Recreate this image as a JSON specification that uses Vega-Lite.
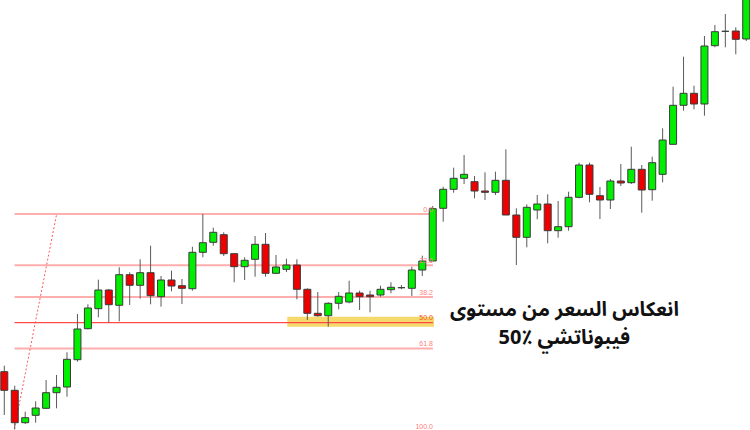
{
  "$schema": "https://vega.github.io/schema/vega-lite/v6.json",
  "width": 750,
  "height": 430,
  "padding": 0,
  "autosize": {"type": "fit", "contains": "padding"},
  "background": "#ffffff",
  "config": {"view": {"stroke": null}},
  "datasets": {
    "candles": [
      {"i": 0, "open": 58.3, "high": 64.3, "low": 15, "close": 39.7},
      {"i": 1, "open": 39.7, "high": 44.3, "low": 0.7, "close": 7.3},
      {"i": 2, "open": 7.3, "high": 18.3, "low": 6, "close": 12.3},
      {"i": 3, "open": 14.7, "high": 28.7, "low": 7.3, "close": 22},
      {"i": 4, "open": 21.7, "high": 50, "low": 21, "close": 37.3},
      {"i": 5, "open": 37.3, "high": 55, "low": 21.7, "close": 42.7},
      {"i": 6, "open": 43, "high": 77.7, "low": 33.3, "close": 70.7},
      {"i": 7, "open": 70.3, "high": 116, "low": 68.3, "close": 101},
      {"i": 8, "open": 101.3, "high": 125.7, "low": 100.7, "close": 122},
      {"i": 9, "open": 121.3, "high": 150.3, "low": 112.7, "close": 140},
      {"i": 10, "open": 140, "high": 141, "low": 107.7, "close": 125.3},
      {"i": 11, "open": 124.7, "high": 162.7, "low": 108.7, "close": 155.3},
      {"i": 12, "open": 155.3, "high": 157.7, "low": 125, "close": 144.7},
      {"i": 13, "open": 144.7, "high": 170.7, "low": 131.3, "close": 157.3},
      {"i": 14, "open": 157.3, "high": 184.3, "low": 125.7, "close": 134.3},
      {"i": 15, "open": 133.3, "high": 154, "low": 123.3, "close": 150},
      {"i": 16, "open": 150, "high": 159.3, "low": 138.7, "close": 144},
      {"i": 17, "open": 144.3, "high": 151, "low": 126, "close": 141.7},
      {"i": 18, "open": 141.3, "high": 183.3, "low": 139.3, "close": 177.7},
      {"i": 19, "open": 177.7, "high": 216, "low": 172.7, "close": 187.3},
      {"i": 20, "open": 187.7, "high": 202.3, "low": 184.3, "close": 197.7},
      {"i": 21, "open": 195.3, "high": 197.7, "low": 174, "close": 176.3},
      {"i": 22, "open": 176.3, "high": 176.3, "low": 147.7, "close": 163.3},
      {"i": 23, "open": 163.3, "high": 172.7, "low": 150, "close": 169.7},
      {"i": 24, "open": 170.7, "high": 194, "low": 153.3, "close": 185.7},
      {"i": 25, "open": 185.7, "high": 197, "low": 153.3, "close": 156.7},
      {"i": 26, "open": 156.7, "high": 175, "low": 156, "close": 163},
      {"i": 27, "open": 160.7, "high": 171.3, "low": 158, "close": 165},
      {"i": 28, "open": 165, "high": 170.7, "low": 130.7, "close": 140.7},
      {"i": 29, "open": 140.7, "high": 141.7, "low": 110, "close": 116.7},
      {"i": 30, "open": 116.7, "high": 138, "low": 113.3, "close": 114.3},
      {"i": 31, "open": 114.3, "high": 127.7, "low": 103.3, "close": 126.7},
      {"i": 32, "open": 126.7, "high": 138, "low": 120.7, "close": 133.7},
      {"i": 33, "open": 128, "high": 149.3, "low": 126.7, "close": 137},
      {"i": 34, "open": 137, "high": 139.3, "low": 120, "close": 133.3},
      {"i": 35, "open": 135, "high": 139.3, "low": 117.7, "close": 133.3},
      {"i": 36, "open": 135, "high": 144.3, "low": 133.3, "close": 140.7},
      {"i": 37, "open": 140.3, "high": 147.7, "low": 136.7, "close": 142.7},
      {"i": 38, "open": 142.3, "high": 145, "low": 140.7, "close": 142.3},
      {"i": 39, "open": 141.7, "high": 163.3, "low": 134, "close": 160},
      {"i": 40, "open": 160, "high": 174.3, "low": 154, "close": 169},
      {"i": 41, "open": 169, "high": 224, "low": 169, "close": 221.3},
      {"i": 42, "open": 221.7, "high": 243.3, "low": 208.3, "close": 240.7},
      {"i": 43, "open": 240.7, "high": 262.3, "low": 237.3, "close": 251.7},
      {"i": 44, "open": 251.7, "high": 275, "low": 246, "close": 255.7},
      {"i": 45, "open": 248.3, "high": 254, "low": 231.7, "close": 239},
      {"i": 46, "open": 239, "high": 257.7, "low": 230, "close": 237.7},
      {"i": 47, "open": 237.7, "high": 258.3, "low": 235, "close": 249.7},
      {"i": 48, "open": 249.7, "high": 280.7, "low": 215, "close": 215},
      {"i": 49, "open": 215, "high": 221.7, "low": 165, "close": 192.7},
      {"i": 50, "open": 192.7, "high": 225.7, "low": 182.7, "close": 222.7},
      {"i": 51, "open": 220, "high": 235, "low": 210.7, "close": 226},
      {"i": 52, "open": 226, "high": 235.7, "low": 186.7, "close": 199.3},
      {"i": 53, "open": 199.3, "high": 229, "low": 192.3, "close": 203.3},
      {"i": 54, "open": 203.3, "high": 238.3, "low": 199.3, "close": 232.7},
      {"i": 55, "open": 232.7, "high": 267.3, "low": 231.7, "close": 265},
      {"i": 56, "open": 265, "high": 267.3, "low": 227.7, "close": 235.7},
      {"i": 57, "open": 234.3, "high": 243, "low": 211, "close": 230},
      {"i": 58, "open": 230, "high": 251, "low": 221, "close": 249},
      {"i": 59, "open": 249, "high": 266, "low": 244, "close": 247},
      {"i": 60, "open": 247.3, "high": 283.3, "low": 246, "close": 260.7},
      {"i": 61, "open": 260.7, "high": 265, "low": 217.3, "close": 240},
      {"i": 62, "open": 240.3, "high": 273.3, "low": 229.3, "close": 267.3},
      {"i": 63, "open": 255.7, "high": 301.7, "low": 247.7, "close": 290},
      {"i": 64, "open": 285.7, "high": 343.3, "low": 285.7, "close": 324.7},
      {"i": 65, "open": 324.7, "high": 373.3, "low": 319.3, "close": 336.7},
      {"i": 66, "open": 336.7, "high": 344.3, "low": 320.7, "close": 326},
      {"i": 67, "open": 326, "high": 394, "low": 314.3, "close": 384},
      {"i": 68, "open": 384.3, "high": 405, "low": 382.7, "close": 398.3},
      {"i": 69, "open": 398.7, "high": 416, "low": 382.7, "close": 398.7},
      {"i": 70, "open": 399, "high": 402.7, "low": 375.7, "close": 390.7},
      {"i": 71, "open": 391, "high": 460, "low": 389, "close": 445}
    ],
    "levels": [
      {"level": 0, "label": "0.0", "price": 216, "from": 0.98, "to": 41.02},
      {"level": 23.6, "label": "23.6", "price": 164.7, "from": 0.98, "to": 41.02},
      {"level": 38.2, "label": "38.2", "price": 133, "from": 0.98, "to": 41.02},
      {"level": 50, "label": "50.0", "price": 107.3, "from": 0.98, "to": 41.02},
      {"level": 61.8, "label": "61.8", "price": 81.6, "from": 0.98, "to": 41.02},
      {"level": 100, "label": "100.0", "price": -1.4, "from": 0.98, "to": 41.02}
    ],
    "zone": [{"start": 27.08, "end": 41.12, "top": 113.3, "bottom": 103.3}],
    "trend": [
      {"i": 0.96, "price": 0.7},
      {"i": 5.01, "price": 216}
    ],
    "notes": [
      {"i": 53.6, "price": 114, "text": "انعكاس السعر من مستوى"},
      {"i": 53.6, "price": 86, "text": "‫فيبوناتشي ‎50٪‬"}
    ]
  },
  "encoding": {
    "x": {"type": "quantitative", "scale": {"domain": [-0.411, 71.36], "nice": false, "zero": false, "padding": 0}, "axis": null},
    "y": {"type": "quantitative", "scale": {"domain": [0, 430], "nice": false, "zero": false, "padding": 0}, "axis": null}
  },
  "layer": [
    {
      "data": {"name": "zone"},
      "mark": {"type": "rect", "color": "#f6d96b", "clip": true},
      "encoding": {
        "x": {"field": "start", "type": "quantitative"},
        "x2": {"field": "end"},
        "y": {"field": "top", "type": "quantitative"},
        "y2": {"field": "bottom"}
      }
    },
    {
      "data": {"name": "levels"},
      "mark": {"type": "rule", "clip": true},
      "encoding": {
        "x": {"field": "from", "type": "quantitative"},
        "x2": {"field": "to"},
        "y": {"field": "price", "type": "quantitative"},
        "color": {"condition": {"test": "datum.level === 50", "value": "#ff4a4a"}, "value": "#ffaeae"},
        "strokeWidth": {"condition": {"test": "datum.level === 50", "value": 1.2}, "value": 2}
      }
    },
    {
      "data": {"name": "trend"},
      "mark": {"type": "line", "color": "#ff5a5a", "strokeWidth": 1, "strokeDash": [2, 2], "clip": true},
      "encoding": {
        "x": {"field": "i", "type": "quantitative"},
        "y": {"field": "price", "type": "quantitative"}
      }
    },
    {
      "data": {"name": "candles"},
      "mark": {"type": "rule", "color": "#5a5a5a", "strokeWidth": 1, "clip": true},
      "encoding": {
        "x": {"field": "i", "type": "quantitative"},
        "y": {"field": "low", "type": "quantitative"},
        "y2": {"field": "high"}
      }
    },
    {
      "data": {"name": "candles"},
      "mark": {"type": "bar", "width": 7, "stroke": "#3a3a3a", "strokeWidth": 1, "clip": true, "orient": "vertical"},
      "encoding": {
        "x": {"field": "i", "type": "quantitative"},
        "y": {"field": "open", "type": "quantitative"},
        "y2": {"field": "close"},
        "color": {"condition": {"test": "datum.close >= datum.open", "value": "#00ee00"}, "value": "#ee0000"}
      }
    },
    {
      "data": {"name": "levels"},
      "mark": {"type": "text", "align": "right", "baseline": "alphabetic", "dy": -2.5, "fontSize": 7, "font": "Liberation Sans", "clip": true},
      "encoding": {
        "x": {"field": "to", "type": "quantitative"},
        "y": {"field": "price", "type": "quantitative"},
        "text": {"field": "label"},
        "color": {"condition": {"test": "datum.level === 50", "value": "#f0502a"}, "value": "#ff8080"}
      }
    },
    {
      "data": {"name": "notes"},
      "mark": {"type": "text", "align": "center", "baseline": "alphabetic", "fontSize": 20, "fontWeight": "bold", "font": "Noto Sans Arabic, DejaVu Sans", "color": "#111111"},
      "encoding": {
        "x": {"field": "i", "type": "quantitative"},
        "y": {"field": "price", "type": "quantitative"},
        "text": {"field": "text"}
      }
    }
  ]
}
